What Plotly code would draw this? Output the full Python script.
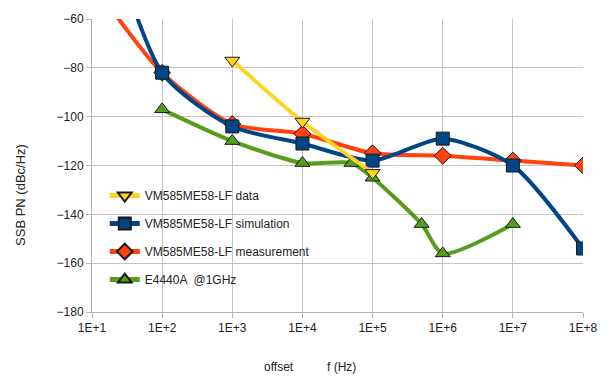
import plotly.graph_objects as go

# Offset frequencies (Hz) and single-sideband phase noise (dBc/Hz)
f_data = [1e3, 1e4, 1e5]
pn_data = [-77, -102, -123]

f_sim = [1e1, 1e2, 1e3, 1e4, 1e5, 1e6, 1e7, 1e8]
pn_sim = [0, -82, -104, -111, -118, -109, -120, -154]

f_meas = [1e1, 1e2, 1e3, 1e4, 1e5, 1e6, 1e7, 1e8]
pn_meas = [-45, -82, -103, -107, -115, -116, -118, -120]

f_e4440 = [1e2, 1e3, 1e4, 5e4, 1e5, 5e5, 1e6, 1e7]
pn_e4440 = [-97, -110, -119, -119, -125, -144, -156, -144]

tick_vals = [1e1, 1e2, 1e3, 1e4, 1e5, 1e6, 1e7, 1e8]
tick_text = ["1E+1", "1E+2", "1E+3", "1E+4", "1E+5", "1E+6", "1E+7", "1E+8"]

FONT = "Liberation Sans, Arial, sans-serif"

series = [
    # name, x, y, colour, symbol, legend rank  (drawn bottom to top)
    ("E4440A  @1GHz", f_e4440, pn_e4440, "#579d1c", "triangle-up", 4),
    ("VM585ME58-LF measurement", f_meas, pn_meas, "#ff420e", "diamond", 3),
    ("VM585ME58-LF simulation", f_sim, pn_sim, "#004586", "square", 2),
    ("VM585ME58-LF data", f_data, pn_data, "#ffd320", "triangle-down", 1),
]

fig = go.Figure()
for i, (name, x, y, col, sym, rank) in enumerate(series):
    fig.add_trace(go.Scatter(
        x=x, y=y, name=name, mode="lines+markers",
        legendgroup=f"g{rank}", legendrank=rank,
        line=dict(color=col, width=4, shape="spline", smoothing=0.7),
        marker=dict(symbol=sym, size=13, color=col,
                    line=dict(color="#1a1a1a", width=1)),
    ))

fig.update_layout(
    width=610, height=380,
    margin=dict(l=92, r=19, t=12, b=68),
    paper_bgcolor="white", plot_bgcolor="white",
    font=dict(family=FONT, size=12, color="#222222"),
    showlegend=True,
    legend=dict(
        x=0.026, y=0.447, xanchor="left", yanchor="top",
        bgcolor="rgba(0,0,0,0)", traceorder="grouped",
        tracegroupgap=9, itemwidth=30, itemsizing="constant",
        font=dict(family=FONT, size=12, color="#222222"),
    ),
    xaxis=dict(
        type="log", range=[1, 8],
        tickvals=tick_vals, ticktext=tick_text,
        showgrid=True, gridcolor="#c4c4c4", gridwidth=1,
        showline=True, linecolor="#b3b3b3", linewidth=1,
        ticks="outside", ticklen=5, tickcolor="#b3b3b3",
        zeroline=False,
    ),
    yaxis=dict(
        range=[-180, -60], dtick=20,
        showgrid=True, gridcolor="#c4c4c4", gridwidth=1,
        showline=True, linecolor="#b3b3b3", linewidth=1,
        ticks="outside", ticklen=5, tickcolor="#b3b3b3",
        zeroline=False,
    ),
    annotations=[
        dict(text="SSB PN (dBc/Hz)", textangle=-90, xref="paper", yref="paper",
             x=(20 - 92) / 499, y=(312 - 192) / 300, showarrow=False,
             xanchor="center", yanchor="middle",
             font=dict(family=FONT, size=13, color="#222222")),
        dict(text="offset", xref="paper", yref="paper",
             x=(282 - 92) / 499, y=(312 - 368) / 300, showarrow=False,
             xanchor="center", yanchor="middle",
             font=dict(family=FONT, size=12, color="#222222")),
        dict(text="f (Hz)", xref="paper", yref="paper",
             x=(346 - 92) / 499, y=(312 - 368) / 300, showarrow=False,
             xanchor="center", yanchor="middle",
             font=dict(family=FONT, size=12, color="#222222")),
    ],
)

fig.write_html("out.html")
